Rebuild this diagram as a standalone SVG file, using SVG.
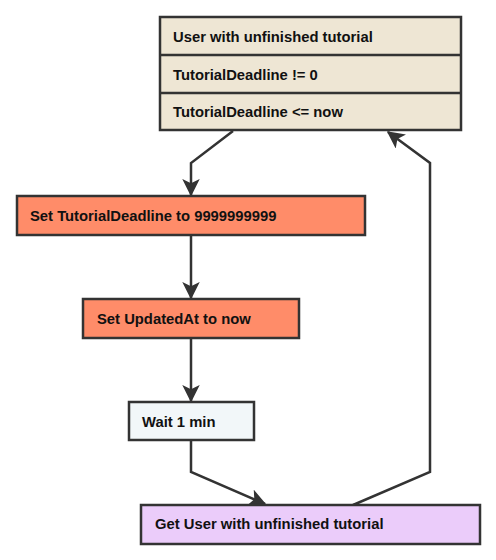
<svg xmlns="http://www.w3.org/2000/svg" width="496" height="560" viewBox="0 0 496 560">
<defs>
<style>
.box{stroke:#333;stroke-width:2.5}
.t{font-family:"Liberation Sans",Arial,sans-serif;font-weight:bold;font-size:14.8px;fill:#111}
.c{fill:none;stroke:#333;stroke-width:2.5;stroke-linejoin:miter}
</style>
<marker id="ah" viewBox="0 0 12 12" refX="11" refY="6" markerWidth="7" markerHeight="7" markerUnits="strokeWidth" orient="auto">
<path d="M0,0 L12,6 L0,12 L3,6 z" fill="#333"/>
</marker>
</defs>
<rect width="496" height="560" fill="#fff"/>
<g id="connectors">
<polyline class="c" points="233,131 191,163 191,195" marker-end="url(#ah)"/>
<polyline class="c" points="191,236 191,298" marker-end="url(#ah)"/>
<polyline class="c" points="191,339 191,401" marker-end="url(#ah)"/>
<polyline class="c" points="191,441 191,472 265,504" marker-end="url(#ah)"/>
<polyline class="c" points="353,505 430,472 430,163 388,132" marker-end="url(#ah)"/>
</g>
<g id="user">
<rect class="box" x="160" y="17" width="301" height="113" fill="#eee6d4"/>
<line class="box" x1="160" y1="55" x2="461" y2="55"/>
<line class="box" x1="160" y1="93" x2="461" y2="93"/>
<text class="t" x="173" y="42">User with unfinished tutorial</text>
<text class="t" x="173" y="80">TutorialDeadline != 0</text>
<text class="t" x="173" y="117">TutorialDeadline &lt;= now</text>
</g>
<g id="setDeadline">
<rect class="box" x="17" y="196" width="348" height="39" fill="#ff8c69"/>
<text class="t" x="30" y="221">Set TutorialDeadline to 9999999999</text>
</g>
<g id="setUpdated">
<rect class="box" x="83" y="299" width="216" height="39" fill="#ff8c69"/>
<text class="t" x="97" y="324">Set UpdatedAt to now</text>
</g>
<g id="wait">
<rect class="box" x="129" y="402" width="125" height="38" fill="#f2f7f9"/>
<text class="t" x="142" y="427">Wait 1 min</text>
</g>
<g id="getUser">
<rect class="box" x="141" y="505" width="339" height="39" fill="#ebccfa"/>
<text class="t" x="155" y="529">Get User with unfinished tutorial</text>
</g>
</svg>
